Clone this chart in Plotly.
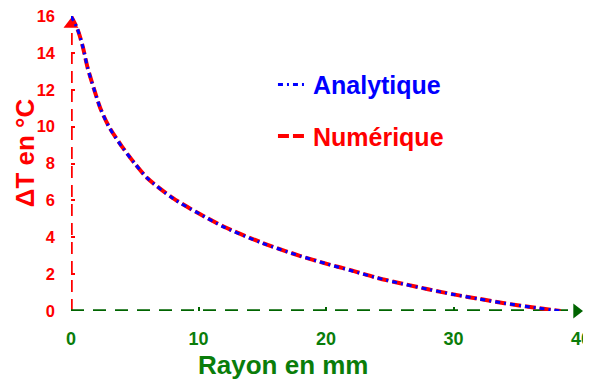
import plotly.graph_objects as go

# Radius (mm) and temperature rise (°C)
rayon = [0, 0.5, 0.9, 1.3, 1.8, 2.3, 3, 4, 5, 6, 8, 10, 12, 15, 18, 20, 22, 24, 26, 28, 30, 32, 34, 36, 38.4]
dt_analytique = [16.0, 15.3, 14.4, 13.2, 12.05, 11.0, 9.95, 8.9, 8.0, 7.2, 6.1, 5.3, 4.55, 3.68, 2.98, 2.57, 2.18, 1.8, 1.47, 1.18, 0.9, 0.65, 0.42, 0.22, 0.0]
dt_numerique = [16.0, 15.3, 14.4, 13.2, 12.05, 11.0, 9.97, 8.92, 8.0, 7.2, 6.12, 5.3, 4.57, 3.7, 2.98, 2.57, 2.2, 1.8, 1.48, 1.18, 0.9, 0.66, 0.42, 0.22, 0.0]

x_ticks = [0, 10, 20, 30, 40]
y_ticks = [0, 2, 4, 6, 8, 10, 12, 14, 16]

RED = "#ff0000"
BLUE = "#0000ff"
GREEN_LINE = "#006400"
GREEN_TXT = "#0a7d0a"
FONT = "Liberation Sans, Arial, sans-serif"

fig = go.Figure()

# axis arrows (decoration)
fig.add_trace(go.Scatter(x=[0], y=[15.54], mode="markers", cliponaxis=False, showlegend=False,
                         marker=dict(symbol="triangle-up", size=13, color=RED), hoverinfo="skip"))
fig.add_trace(go.Scatter(x=[39.65], y=[0], mode="markers", cliponaxis=False, showlegend=False,
                         marker=dict(symbol="triangle-right", size=13, color=GREEN_LINE), hoverinfo="skip"))

fig.add_trace(go.Scatter(x=rayon, y=dt_numerique, mode="lines", cliponaxis=False,
                         name="<b><span style='color:#ff0000'>Numérique</span></b>",
                         legendgroup="n", legendrank=2,
                         line=dict(color=RED, width=4, dash="11px,4px", shape="spline", smoothing=0.8)))
fig.add_trace(go.Scatter(x=rayon, y=dt_analytique, mode="lines", cliponaxis=False,
                         name="<b><span style='color:#0000ff'>Analytique</span></b>",
                         legendgroup="a", legendrank=1,
                         line=dict(color=BLUE, width=3, dash="5px,4px,2px,4px", shape="spline", smoothing=0.8)))

# dashed axis lines
fig.add_shape(type="line", x0=0, y0=0, x1=0, y1=15.2, xref="x", yref="y",
              line=dict(color=RED, width=3.5, dash="12px,7px"), layer="below")
fig.add_shape(type="line", x0=0, y0=0, x1=39.1, y1=0, xref="x", yref="y",
              line=dict(color=GREEN_LINE, width=3.5, dash="13px,9px"), layer="below")

# page body has an 8px default margin: figure is sized to fit the window
fig.update_layout(
    width=583, height=377,
    margin=dict(l=63, r=10, t=7.5, b=74, autoexpand=False),
    paper_bgcolor="white", plot_bgcolor="white",
    font=dict(family=FONT),
    legend=dict(x=0.396, y=0.845, xanchor="left", yanchor="top",
                font=dict(size=25, family=FONT), tracegroupgap=16,
                bgcolor="rgba(0,0,0,0)", itemwidth=30),
    showlegend=True,
    xaxis=dict(range=[0, 40], tickvals=x_ticks, ticktext=[f"<b>{v}</b>" for v in x_ticks],
               showgrid=False, zeroline=False, showline=False, automargin=False,
               ticklabeloverflow="allow",
               ticks="inside", ticklen=4, tickwidth=2, tickcolor=GREEN_LINE,
               tickfont=dict(size=18, color=GREEN_TXT, family=FONT), ticklabelstandoff=15),
    yaxis=dict(range=[0, 16], tickvals=y_ticks, ticktext=[f"<b>{v}</b>" for v in y_ticks],
               showgrid=False, zeroline=False, showline=False, automargin=False,
               ticklabeloverflow="allow",
               ticks="inside", ticklen=4, tickwidth=2, tickcolor=RED,
               tickfont=dict(size=16.5, color=RED, family=FONT), ticklabelstandoff=15),
    annotations=[
        dict(text="<b>Rayon en mm</b>", x=0.416, y=-0.182, xref="paper", yref="paper",
             showarrow=False, xanchor="center", yanchor="middle",
             font=dict(size=26, color=GREEN_TXT, family=FONT)),
        dict(text="<b>ΔT en °C</b>", x=-0.09, y=0.535, xref="paper", yref="paper",
             showarrow=False, xanchor="center", yanchor="middle", textangle=-90,
             font=dict(size=26, color=RED, family=FONT)),
    ],
)

fig.write_html("out.html")
